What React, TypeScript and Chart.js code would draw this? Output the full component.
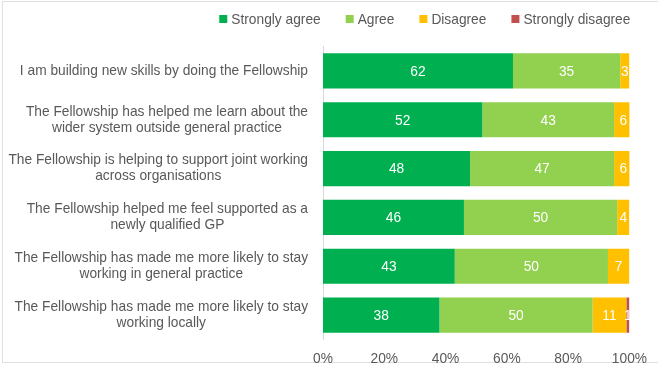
import React, { useEffect, useRef } from "react";
import { Chart, registerables } from "chart.js";

Chart.register(...registerables);

const categories: string[][] = [
  ["I am building new skills by doing the Fellowship"],
  ["The Fellowship has helped me learn about the", "wider system outside general practice"],
  ["The Fellowship is helping to support joint working", "across organisations"],
  ["The Fellowship helped me feel supported as a", "newly qualified GP"],
  ["The Fellowship has made me more likely to stay", "working in general practice"],
  ["The Fellowship has made me more likely to stay", "working locally"],
];
const seriesNames = ["Strongly agree", "Agree", "Disagree", "Strongly disagree"];
const stronglyAgree = [62, 52, 48, 46, 43, 38];
const agree = [35, 43, 47, 50, 50, 50];
const disagree = [3, 6, 6, 4, 7, 11];
const stronglyDisagree = [0, 0, 0, 0, 0, 1];
const seriesColors = ["#00B050", "#92D050", "#FFC000", "#C0504D"];

const FONT = "'Liberation Sans', Arial, sans-serif";
const FS = 13.75;
const TEXT = "#595959";

const labelPlugin = {
  id: "customLabels",
  afterDatasetsDraw(chart: any) {
    const ctx = chart.ctx;
    ctx.save();
    ctx.font = `${FS}px ${FONT}`;
    ctx.fillStyle = "#ffffff";
    ctx.textAlign = "center";
    ctx.textBaseline = "middle";
    chart.data.datasets.forEach((ds: any, i: number) => {
      const meta = chart.getDatasetMeta(i);
      meta.data.forEach((el: any, j: number) => {
        const v = ds.data[j];
        if (!v) return;
        const x = (el.x + el.base) / 2;
        ctx.fillText(String(v), x, el.y + 1);
      });
    });
    ctx.restore();
  },
  afterDraw(chart: any) {
    const ctx = chart.ctx;
    const area = chart.chartArea;
    const yScale = chart.scales.y;
    ctx.save();
    ctx.font = `${FS}px ${FONT}`;
    ctx.fillStyle = TEXT;
    ctx.textBaseline = "middle";
    ctx.textAlign = "center";
    const right = area.left - 15;
    const lh = 16;
    categories.forEach((lines, i) => {
      const cy = yScale.getPixelForValue(i);
      const maxW = Math.max(...lines.map((l) => ctx.measureText(l).width));
      const cx = right - maxW / 2;
      const y0 = cy - ((lines.length - 1) * lh) / 2;
      lines.forEach((l, k) => ctx.fillText(l, cx, y0 + k * lh));
    });
    // legend
    const box = 8;
    const gapBox = 4;
    const gapItem = 25;
    const widths = seriesNames.map((n) => ctx.measureText(n).width);
    let total = 0;
    widths.forEach((w, i) => {
      total += box + gapBox + w + (i < widths.length - 1 ? gapItem : 0);
    });
    let x = area.right + 1 - total;
    const ly = 19;
    ctx.textAlign = "left";
    seriesNames.forEach((n, i) => {
      ctx.fillStyle = seriesColors[i];
      ctx.fillRect(x, ly - box / 2, box, box);
      x += box + gapBox;
      ctx.fillStyle = TEXT;
      ctx.fillText(n, x, ly + 1);
      x += widths[i] + gapItem;
    });
    ctx.restore();
  },
};

export default function App() {
  const ref = useRef<HTMLCanvasElement | null>(null);
  useEffect(() => {
    if (!ref.current) return;
    const chart = new Chart(ref.current, {
      type: "bar",
      data: {
        labels: categories.map((c) => c.join(" ")),
        datasets: [stronglyAgree, agree, disagree, stronglyDisagree].map((d, i) => ({
          label: seriesNames[i],
          data: d,
          backgroundColor: seriesColors[i],
          borderWidth: 0,
          barPercentage: 0.72,
          categoryPercentage: 1,
        })),
      },
      options: {
        indexAxis: "y",
        animation: false,
        responsive: false,
        maintainAspectRatio: false,
        layout: { padding: { top: 46.5, right: 28, bottom: -9, left: 0 } },
        plugins: {
          legend: { display: false },
          tooltip: { enabled: false },
        },
        scales: {
          x: {
            type: "linear",
            stacked: true,
            min: 0,
            max: 100,
            grid: { display: false, drawTicks: false },
            border: { display: false },
            ticks: {
              stepSize: 20,
              padding: 11,
              color: TEXT,
              font: { family: FONT, size: FS },
              callback: (v: any) => v + "%",
            },
          },
          y: {
            type: "category",
            stacked: true,
            grid: { drawOnChartArea: false, drawTicks: false },
            border: { display: true, color: "#d9d9d9", width: 1 },
            ticks: { display: false },
            afterFit: (s: any) => {
              s.width = 323;
            },
          },
        },
      },
      plugins: [labelPlugin],
    });
    return () => chart.destroy();
  }, []);
  return (
    <div style={{ position: "fixed", left: 0, top: 0, width: 658, height: 369, background: "#fff" }}>
      <div
        style={{
          position: "absolute",
          left: 2,
          top: 1,
          width: 660,
          height: 360,
          borderLeft: "1px solid #e0e0e0",
          borderTop: "1px solid #e0e0e0",
          borderBottom: "1px solid #e0e0e0",
        }}
      />
      <canvas ref={ref} width={658} height={369} style={{ position: "absolute", left: 0, top: 0 }} />
    </div>
  );
}
